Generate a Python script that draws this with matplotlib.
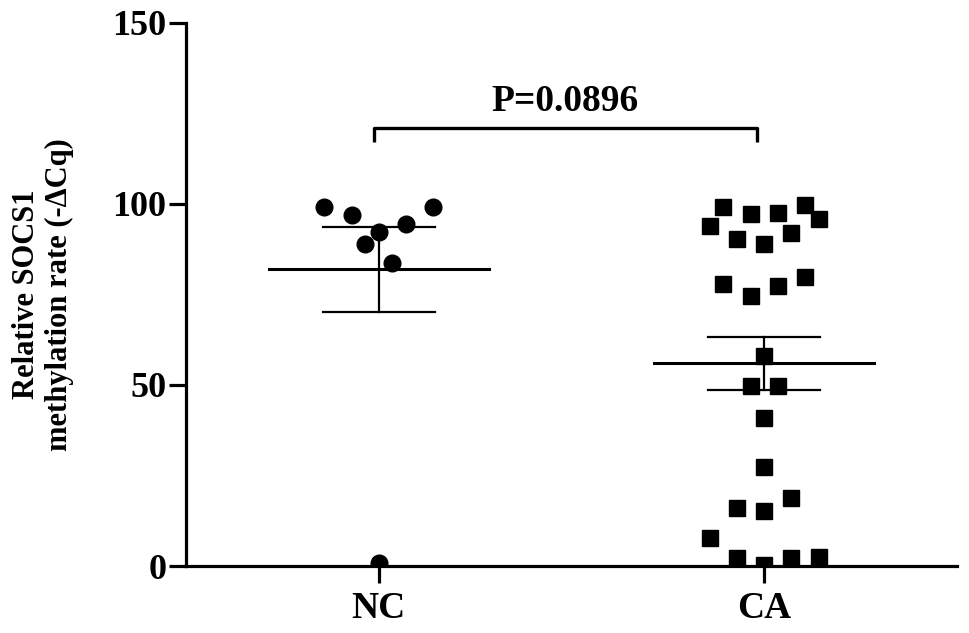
import numpy as np
import matplotlib
matplotlib.use('Agg')
import matplotlib.pyplot as plt

# Data
groups = ['NC', 'CA']
nc_values = [99.2, 97.0, 92.3, 89.0, 94.5, 99.2, 83.7, 0.8]
nc_slots = [-4, -2, 0, -1, 2, 4, 1, 0]          # column slot of each dot in the scatter
ca_values = [99.2, 93.9, 97.2, 97.5, 99.7, 95.9, 90.3, 89.0, 92.0,
             77.9, 74.6, 77.3, 79.8,
             58.0, 49.7, 49.7, 40.9, 27.3,
             16.0, 15.2, 18.8, 7.7, 2.2, 0.3, 2.2, 2.5]
ca_slots = [-3, -4, -1, 1, 3, 4, -2, 0, 2,
            -3, -1, 1, 3,
            0, -1, 1, 0, 0,
            -2, 0, 2, -4, -2, 0, 2, 4]
p_text = 'P=0.0896'
y_label = 'Relative SOCS1\nmethylation rate (-\u0394Cq)'

plt.rcParams['font.family'] = ['Liberation Serif', 'DejaVu Serif']
plt.rcParams['font.weight'] = 'bold'

fig = plt.figure(figsize=(9.69, 6.33), dpi=100)
ax = fig.add_axes([0.192, 0.1058, 0.7956, 0.858])

slot_w = 0.0353
series = [(nc_values, nc_slots, 'o'), (ca_values, ca_slots, 's')]
for i, (vals, slots, mk) in enumerate(series):
    vals = np.array(vals)
    xs = i + np.array(slots) * slot_w
    ax.plot(xs, vals, linestyle='none', marker=mk, markersize=12,
            color='black', zorder=3)
    mean = vals.mean()
    sem = vals.std(ddof=1) / np.sqrt(len(vals))
    # mean line
    ax.plot([i - 0.285, i + 0.285], [mean, mean], color='black', lw=2.2, zorder=2)
    # SEM bar with caps
    ax.plot([i, i], [mean - sem, mean + sem], color='black', lw=1.6, zorder=2)
    for v in (mean - sem, mean + sem):
        ax.plot([i - 0.145, i + 0.145], [v, v], color='black', lw=1.6, zorder=2)

# significance bracket
ax.plot([-0.012, -0.012, 0.98, 0.98], [117, 121, 121, 117], color='black',
        lw=2.4, solid_capstyle='butt', clip_on=False)
ax.text(0.484, 123.5, p_text, ha='center', va='bottom', fontsize=27,
        fontweight='bold')

ax.set_xlim(-0.5, 1.5)
ax.set_ylim(0, 150)
ax.set_xticks([0, 1])
ax.set_xticklabels(groups)
ax.set_yticks([0, 50, 100, 150])
ax.spines['top'].set_visible(False)
ax.spines['right'].set_visible(False)
for s in ['left', 'bottom']:
    ax.spines[s].set_linewidth(2.3)
ax.tick_params(axis='both', direction='out', length=12, width=2.3, colors='black')
ax.tick_params(axis='y', labelsize=26, pad=2)
ax.tick_params(axis='x', labelsize=27, pad=6)
ax.set_ylabel(y_label, fontsize=22, fontweight='bold', labelpad=28,
              linespacing=1.15)

fig.savefig('out.png', dpi=100)
